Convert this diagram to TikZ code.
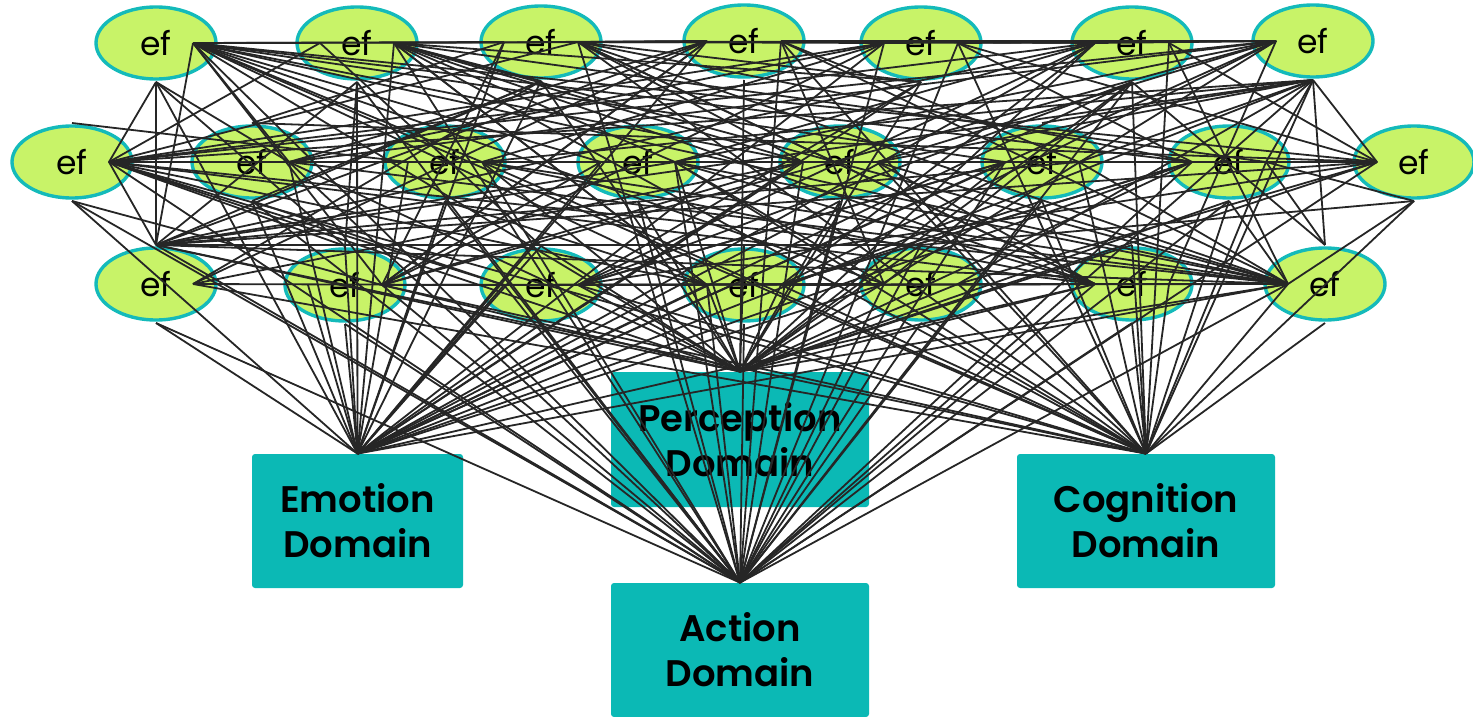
\documentclass[tikz,border=0pt]{standalone}
\usepackage{fontspec}
\setmainfont{Poppins}
\newfontfamily\boxfont{Poppins SemiBold}
\usetikzlibrary{shapes.geometric}
\definecolor{lime}{RGB}{200,243,104}
\definecolor{tealb}{RGB}{20,186,186}
\definecolor{boxc}{RGB}{11,185,181}
\definecolor{linec}{RGB}{38,38,38}
\begin{document}
\begin{tikzpicture}[x=0.5pt,y=-0.5pt,
  efnode/.style={ellipse,draw=tealb,fill=lime,line width=1.7pt,minimum width=60pt,minimum height=36pt,inner sep=0pt,font=\fontsize{16.5}{19}\selectfont},
  domainbox/.style={fill=boxc,rounded corners=1.5pt,inner sep=0pt,align=center,font=\fontsize{18.5}{22.5}\boxfont},
  conn/.style={draw=linec,line width=0.9pt}]
\useasboundingbox (0,0) rectangle (1473,717);
% domain boxes
\node[domainbox,minimum width=105.5pt,minimum height=67pt] (Emo) at (357.5,521) {Emotion\\Domain};
\node[domainbox,minimum width=129pt,minimum height=67.5pt] (Per) at (740,439.5) {Perception\\Domain};
\node[domainbox,minimum width=129pt,minimum height=67pt] (Cog) at (1146,521) {Cognition\\Domain};
\node[domainbox,minimum width=129pt,minimum height=67pt] (Act) at (740,650) {Action\\Domain};
\coordinate (E) at (Emo.north);
\coordinate (P) at (Per.north);
\coordinate (G) at (Cog.north);
\coordinate (X) at (Act.north);
% ellipses
\foreach \n/\x/\y in {A1/156/43,A2/357/43,A3/541/42,A4/744/41,A5/921/43,A6/1132/43,A7/1313/41,
  B1/72/162,B2/252/162,B3/445/162,B4/638/162,B5/840/162,B6/1042/162,B7/1229/162,B8/1414/162,
  C1/156/284,C2/345/285,C3/541/285,C4/744/285,C5/921/284,C6/1132/284,C7/1325/284}{
  \node[efnode] (\n) at (\x,\y) {ef};
  \coordinate (\n-r) at (\x+37,\y);
  \coordinate (\n-l) at (\x-37,\y);
  \coordinate (\n-n) at (\x,\y-39);
  \coordinate (\n-s) at (\x,\y+39);
}
% connectors
\foreach \s/\tl in {
A1-r/{A2-l,A3-l,A7-l,B2-r,B3-r,B4-l,B5-l,B6-l,B7-l,B8-l,C2-r,C4-l,C5-l,C7-l,P,G,X},
A1-s/{B1-r,C1-n,B2-r,C2-n,E},
B1-r/{A2-l,A3-r,A5-l,A6-l,A7-l,A7-s,B3-l,B5-r,B8-l,C3-l,C4-l,C6-l,C7-l,P,G,X},
B1-n/{B3-l},
B1-s/{E,X,C2-r},
C1-n/{A1-r,B1-r,A2-s,A3-s,A4-l,A6-l,A7-s,B4-r,B6-r,B8-l,C7-l,C5-n,P,G,X},
C1-r/{A3-s,A4-l,B5-l,G},
C1-s/{E,X},
A7-l/{A3-r,A4-r,A5-l,A6-l,B2-r,B4-r,C2-r,C4-r,C6-r,P,E},
A7-s/{B3-r,B5-r,B6-n,B8-l,C7-n,C5-r,X,G,E},
B8-l/{A5-r,A6-r,B2-n,B4-r,B6-r,C3-r,C5-r,P,X},
B8-s/{C7-l,G,C5-n},
C7-l/{A2-r,A3-r,A4-r,A6-r,B2-r,B3-r,B4-r,B5-r,B6-r,B7-s,C3-r,C5-r,P,X,E,G},
C7-n/{A6-s,B7-r},
C7-s/{G},
A2-l/{C3-n},
A2-r/{A3-s,A5-s,B4-r,B7-r,C4-l,C6-l,E,X,G},
A2-s/{E,X,C2-n},
A3-l/{C2-r,E},
A3-r/{A4-l,A5-s,B5-l,B7-l,C6-l,G,X},
A3-s/{B2-s,P,E},
A4-l/{A2-r,B2-r,C2-r,E},
A4-r/{A6-l,B6-r,C5-l,G,X},
A4-s/{P},
A5-l/{A3-r,B3-r,C2-r,E,X},
A5-r/{A7-l,B7-l,G,X},
A5-s/{C3-r,P,E},
A6-l/{A4-r,B4-r,C3-r,E,P},
A6-r/{G},
A6-s/{C3-r,C5-l,X,E,P,G},
B2-r/{B4-l,A5-l,E,P,X},
B2-n/{A3-l},
B2-s/{E,X,C3-l},
B3-l/{E},
B3-r/{B6-l,C6-l,G,X,P},
B3-s/{X,E,C4-l},
B4-l/{C2-r,E},
B4-r/{B7-l,C6-l,G,P,X},
B4-s/{X,P},
B5-l/{B3-r,C2-r,A2-r,E,X},
B5-r/{A7-l,G},
B5-s/{X,P,E},
B6-l/{B4-r,C3-r,E,P,X},
B6-r/{A7-s,G},
B6-s/{X,G,C4-r},
B7-l/{B5-r,C4-r,P,E,X},
B7-r/{A7-s,B8-s,G},
B7-s/{X,G,P},
C2-l/{E},
C2-r/{A4-l,C5-l,P,G,X},
C2-n/{B1-r,E},
C2-s/{E,X},
C3-l/{C1-r,E,X},
C3-r/{B6-l,C5-l,P,G},
C3-n/{P,E},
C3-s/{X,E},
C4-l/{C2-r,A2-r,E,X,P},
C4-r/{A6-l,B7-l,C6-l,G,P},
C4-n/{P},
C4-s/{X},
C5-l/{C3-r,B4-r,E,X},
C5-r/{G,P},
C5-n/{P,X},
C5-s/{G,X},
C6-l/{C4-r,B5-r,A3-r,E,P,X},
C6-r/{G},
C6-n/{P,G},
C6-s/{X,G}}{
  \foreach \t in \tl {\draw[conn] (\s) -- (\t);}
}
\end{tikzpicture}
\end{document}
